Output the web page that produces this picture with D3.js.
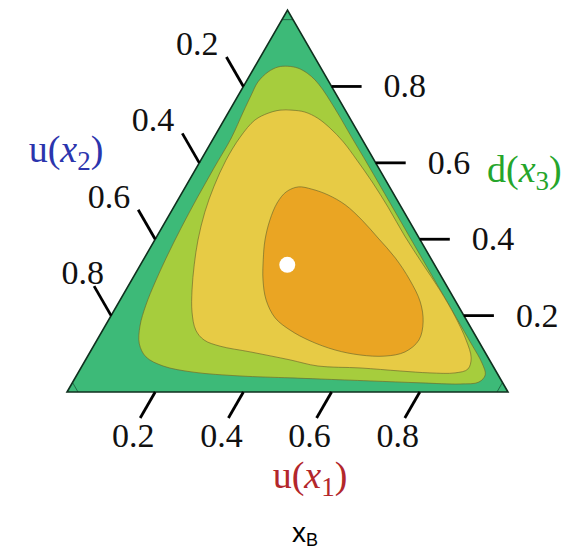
<!DOCTYPE html>
<html>
<head>
<meta charset="utf-8">
<script src="https://cdn.jsdelivr.net/npm/d3@7"></script>
<style>
  html, body { margin: 0; padding: 0; background: #ffffff; }
  svg { display: block; }
</style>
</head>
<body>
<svg id="chart" width="581" height="549"></svg>
<script>
// Axis ticks shared by the three ternary axes
const tickValues = [0.2, 0.4, 0.6, 0.8];
const tickLabels = ["0.2", "0.4", "0.6", "0.8"];

// Contour boundaries as [u(x1), d(x3)] pairs; u(x2) = 1 - u(x1) - d(x3)
const levelOuter = [
  [0.074, 0.853], [0.100, 0.848], [0.127, 0.835], [0.154, 0.817], [0.185, 0.791],
  [0.219, 0.759], [0.256, 0.723], [0.309, 0.670], [0.386, 0.594], [0.485, 0.495],
  [0.585, 0.395], [0.684, 0.296], [0.784, 0.196], [0.857, 0.123], [0.903, 0.076],
  [0.926, 0.045], [0.921, 0.026], [0.881, 0.021], [0.789, 0.024], [0.673, 0.029],
  [0.557, 0.034], [0.487, 0.037], [0.371, 0.042], [0.260, 0.052], [0.184, 0.068],
  [0.133, 0.092], [0.101, 0.126], [0.079, 0.173], [0.065, 0.228], [0.056, 0.288],
  [0.049, 0.356], [0.044, 0.429], [0.041, 0.508], [0.040, 0.586], [0.040, 0.665],
  [0.033, 0.733], [0.029, 0.778], [0.027, 0.812], [0.037, 0.838], [0.053, 0.851]
];
const levelMiddle = [
  [0.141, 0.738], [0.173, 0.733], [0.210, 0.717], [0.251, 0.691], [0.299, 0.655],
  [0.354, 0.607], [0.417, 0.550], [0.486, 0.484], [0.562, 0.408], [0.636, 0.338],
  [0.712, 0.267], [0.780, 0.199], [0.837, 0.136], [0.872, 0.089], [0.879, 0.060],
  [0.855, 0.050], [0.798, 0.050], [0.728, 0.055], [0.633, 0.063], [0.535, 0.068],
  [0.464, 0.084], [0.363, 0.105], [0.287, 0.120], [0.243, 0.136], [0.211, 0.162],
  [0.179, 0.209], [0.150, 0.267], [0.122, 0.333], [0.098, 0.398], [0.077, 0.471],
  [0.064, 0.539], [0.057, 0.607], [0.059, 0.668], [0.070, 0.712], [0.091, 0.730],
  [0.114, 0.738]
];
const levelInner = [
  [0.256, 0.537], [0.290, 0.531], [0.334, 0.516], [0.386, 0.490], [0.444, 0.450],
  [0.504, 0.403], [0.569, 0.351], [0.631, 0.293], [0.683, 0.236], [0.716, 0.183],
  [0.730, 0.136], [0.714, 0.105], [0.674, 0.094], [0.616, 0.097], [0.553, 0.110],
  [0.484, 0.134], [0.425, 0.162], [0.375, 0.194], [0.331, 0.241], [0.298, 0.293],
  [0.272, 0.346], [0.250, 0.398], [0.235, 0.450], [0.229, 0.495], [0.235, 0.524]
];
const levels = [levelOuter, levelMiddle, levelInner];
const levelColors = ["#3dba78", "#a6cd3d", "#e7cb45", "#eaa523"];

// Tiny corner regions where one component exceeds this share
const cornerShare = 0.975;

// Equal-share point [u(x1), d(x3)]
const markedPoint = [0.333, 0.333];

// ---- layout ----
const svg = d3.select("#chart");
const side = 441, left = 67, base = 392;
const hx = d3.scaleLinear().domain([0, 1]).range([left, left + side]);
const hy = d3.scaleLinear().domain([0, 1]).range([base, base - side * Math.sqrt(3) / 2]);
// (u1, d3) -> screen; u2 is implied
const proj = (a, c) => [hx(a + c / 2), hy(c)];

const L = proj(0, 0), R = proj(1, 0), T = proj(0, 1);
const triPath = `M${L}L${R}L${T}Z`;

svg.append("defs").append("clipPath").attr("id", "tri")
  .append("path").attr("d", triPath);

// background level
svg.append("path").attr("d", triPath).attr("fill", levelColors[0]);

const smooth = d3.line()
  .x(d => proj(d[0], d[1])[0])
  .y(d => proj(d[0], d[1])[1])
  .curve(d3.curveCatmullRomClosed.alpha(0.5));

const g = svg.append("g").attr("clip-path", "url(#tri)");
levels.forEach((ring, i) => {
  g.append("path")
    .attr("d", smooth(ring))
    .attr("fill", levelColors[i + 1])
    .attr("stroke", "#6e6a2c")
    .attr("stroke-opacity", 0.75)
    .attr("stroke-width", 0.9);
});

// corner cuts
const m = 1 - cornerShare;
const cuts = [
  [proj(0, cornerShare), proj(m, cornerShare)],
  [proj(m, 0), proj(0, m)],
  [proj(cornerShare, 0), proj(cornerShare, m)]
];
g.selectAll("line.cut").data(cuts).join("line")
  .attr("class", "cut")
  .attr("x1", d => d[0][0]).attr("y1", d => d[0][1])
  .attr("x2", d => d[1][0]).attr("y2", d => d[1][1])
  .attr("stroke", "#1f6b45").attr("stroke-width", 1);

// outline
svg.append("path").attr("d", triPath)
  .attr("fill", "none").attr("stroke", "#10301f").attr("stroke-width", 1.6)
  .attr("stroke-linejoin", "miter");

// marked point
const mp = proj(markedPoint[0], markedPoint[1]);
svg.append("circle").attr("cx", mp[0]).attr("cy", mp[1]).attr("r", 8).attr("fill", "#ffffff");

// ---- axes ----
const s3 = Math.sqrt(3) / 2;
const tickFont = "'Liberation Serif', 'Times New Roman', serif";
const axes = [
  { // bottom: u(x1)
    at: v => proj(v, 0), dir: [-0.5, s3], len: 30,
    label: (e) => ({ x: e[0] - 7, y: e[1] + 29, anchor: "middle" })
  },
  { // left: u(x2)
    at: v => proj(0, 1 - v), dir: [-0.5, -s3], len: 34,
    label: (e, v) => ({ x: e[0] - 8 + (v === 0.8 ? 18 : 0), y: e[1] - 2, anchor: "end" })
  },
  { // right: d(x3)
    at: v => proj(1 - v, v), dir: [1, 0], len: 30,
    label: (e) => ({ x: e[0] + 22, y: e[1] + 11, anchor: "start" })
  }
];

axes.forEach(ax => {
  const ag = svg.append("g");
  tickValues.forEach((v, i) => {
    const p = ax.at(v);
    const e = [p[0] + ax.dir[0] * ax.len, p[1] + ax.dir[1] * ax.len];
    ag.append("line")
      .attr("x1", p[0]).attr("y1", p[1]).attr("x2", e[0]).attr("y2", e[1])
      .attr("stroke", "#000").attr("stroke-width", 2.8);
    const lp = ax.label(e, v);
    ag.append("text")
      .attr("x", lp.x).attr("y", lp.y).attr("text-anchor", lp.anchor)
      .attr("font-family", tickFont).attr("font-size", 34).attr("fill", "#111")
      .text(tickLabels[i]);
  });
});

// axis titles: name(x_k)
function title(x, y, anchor, name, sub, color) {
  const t = svg.append("text")
    .attr("x", x).attr("y", y).attr("text-anchor", anchor)
    .attr("font-family", tickFont).attr("font-size", 38).attr("fill", color);
  t.append("tspan").text(name + "(");
  t.append("tspan").attr("font-style", "italic").text("x");
  t.append("tspan").attr("font-size", 27).attr("dy", 8).text(sub);
  t.append("tspan").attr("dy", -8).text(")");
}
title(310, 488, "middle", "u", "1", "#b3272b");
title(66, 162, "middle", "u", "2", "#2b35ad");
title(487, 182, "start", "d", "3", "#25a52b");

// caption
const cap = svg.append("text")
  .attr("x", 305).attr("y", 542).attr("text-anchor", "middle")
  .attr("font-family", "'Liberation Sans', Arial, sans-serif").attr("font-size", 28).attr("fill", "#000");
cap.append("tspan").text("x");
cap.append("tspan").attr("font-size", 18).attr("dy", 4).text("B");
</script>
</body>
</html>
